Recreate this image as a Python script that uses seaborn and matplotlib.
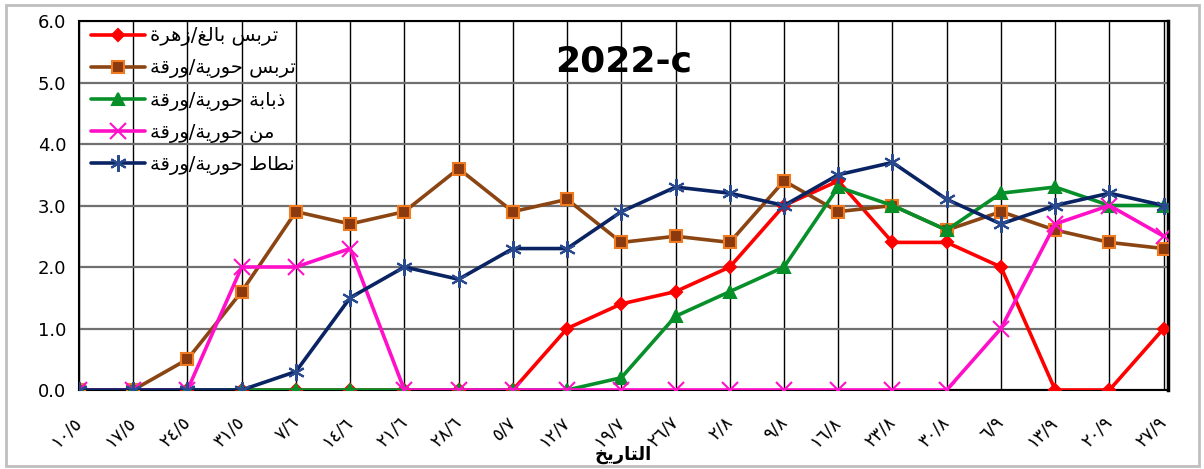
import pandas as pd
import matplotlib
matplotlib.use("Agg")
import matplotlib.pyplot as plt
import seaborn as sns
from matplotlib.patches import Rectangle

# Data
dates = ['١٠/٥', '١٧/٥', '٢٤/٥', '٣١/٥', '٧/٦', '١٤/٦', '٢١/٦', '٢٨/٦', '٥/٧', '١٢/٧', '١٩/٧',
         '٢٦/٧', '٢/٨', '٩/٨', '١٦/٨', '٢٣/٨', '٣٠/٨', '٦/٩', '١٣/٩', '٢٠/٩', '٢٧/٩']
thrips_adult = [0, 0, 0, 0, 0, 0, 0, 0, 0, 1.0, 1.4, 1.6, 2.0, 3.0, 3.4, 2.4, 2.4, 2.0, 0, 0, 1.0]
thrips_nymph = [0, 0, 0.5, 1.6, 2.9, 2.7, 2.9, 3.6, 2.9, 3.1, 2.4, 2.5, 2.4, 3.4, 2.9, 3.0, 2.6, 2.9, 2.6, 2.4, 2.3]
whitefly_nymph = [0, 0, 0, 0, 0, 0, 0, 0, 0, 0, 0.2, 1.2, 1.6, 2.0, 3.3, 3.0, 2.6, 3.2, 3.3, 3.0, 3.0]
aphid_nymph = [0, 0, 0, 2.0, 2.0, 2.3, 0, 0, 0, 0, 0, 0, 0, 0, 0, 0, 0, 1.0, 2.7, 3.0, 2.5]
hopper_nymph = [0, 0, 0, 0, 0.3, 1.5, 2.0, 1.8, 2.3, 2.3, 2.9, 3.3, 3.2, 3.0, 3.5, 3.7, 3.1, 2.7, 3.0, 3.2, 3.0]

labels = ['تربس بالغ/زهرة', 'تربس حورية/ورقة', 'ذبابة حورية/ورقة', 'من حورية/ورقة', 'نطاط حورية/ورقة']
series = [thrips_adult, thrips_nymph, whitefly_nymph, aphid_nymph, hopper_nymph]
title = '2022-c'
xlabel = 'التاريخ'

# matplotlib has no Arabic shaping: map letters to presentation forms, then reverse
FORMS = {'ا': (0xFE8D, 2), 'ب': (0xFE8F, 4), 'ة': (0xFE93, 2), 'ت': (0xFE95, 4), 'ح': (0xFEA1, 4),
         'خ': (0xFEA5, 4), 'ذ': (0xFEAB, 2), 'ر': (0xFEAD, 2), 'ز': (0xFEAF, 2), 'س': (0xFEB1, 4),
         'ط': (0xFEC1, 4), 'غ': (0xFECD, 4), 'ق': (0xFED5, 4), 'ل': (0xFEDD, 4), 'م': (0xFEE1, 4),
         'ن': (0xFEE5, 4), 'ه': (0xFEE9, 4), 'و': (0xFEED, 2), 'ي': (0xFEF1, 4)}


def ar(text):
    out = []
    for i, c in enumerate(text):
        if c not in FORMS:
            out.append(c)
            continue
        base, n = FORMS[c]
        prev = text[i - 1] if i > 0 else None
        nxt = text[i + 1] if i + 1 < len(text) else None
        jp = prev in FORMS and FORMS[prev][1] == 4
        jn = n == 4 and nxt in FORMS
        idx = 3 if (jp and jn) else 1 if jp else 2 if jn else 0
        out.append(chr(base + idx))
    return ''.join(reversed(out))


sns.set_style("white")
plt.rcParams['font.family'] = ['DejaVu Sans']
plt.rcParams['text.color'] = 'black'
plt.rcParams['axes.labelcolor'] = 'black'
plt.rcParams['xtick.labelcolor'] = 'black'
plt.rcParams['ytick.labelcolor'] = 'black'

colors = ['#FF0000', '#8B4513', '#07902A', '#FF10C8', '#0A2463']
markers = ['D', 's', '^', 'x', (6, 2, 0)]
msizes = [6, 9, 9, 11, 12]
mfc = ['#FF0000', '#8B3A0F', '#07902A', '#FF10C8', '#0A2463']
mec = ['#FF0000', '#F07A20', '#07902A', '#FF10C8', '#2A4A90']

df = pd.DataFrame({'x': range(len(dates))})
for lab, vals in zip(labels, series):
    df[lab] = vals

fig = plt.figure(figsize=(12.04, 4.69), dpi=100)
ax = fig.add_axes([79 / 1204, 1 - 390 / 469, (1168 - 79) / 1204, (390 - 21) / 469])

for i, lab in enumerate(labels):
    sns.lineplot(data=df, x='x', y=lab, ax=ax, color=colors[i], marker=markers[i],
                 markersize=msizes[i], markerfacecolor=mfc[i], markeredgecolor=mec[i],
                 markeredgewidth=1.5, linewidth=2.6, label=ar(lab), zorder=3 + i)

ax.set_xlim(0, len(dates) - 1 + 0.08)
ax.set_ylim(0, 6)
ax.set_yticks([0, 1, 2, 3, 4, 5, 6])
ax.set_yticklabels([f'{v:.1f}' for v in range(7)], fontsize=13)
ax.set_xticks(range(len(dates)))
ax.set_xticklabels(dates, rotation=45, ha='right', va='center', rotation_mode='anchor', fontsize=13)
ax.tick_params(axis='both', length=5, color='#A0A0A0', direction='out', pad=4)
ax.tick_params(axis='x', pad=16)

ax.grid(axis='x', color='black', linewidth=1.0)
ax.grid(axis='y', color='#707070', linewidth=1.6)
for s in ax.spines.values():
    s.set_color('black')
    s.set_linewidth(1.5)
ax.spines['right'].set_linewidth(2.5)

ax.set_xlabel(ar(xlabel), fontsize=13, fontweight='bold', va='center')
ax.xaxis.set_label_coords(0.5, -(455 - 390) / 369)
ax.set_ylabel('')
ax.text(0.5, 0.89, title, transform=ax.transAxes, ha='center', va='center',
        fontsize=26, fontweight='bold', color='black')

leg = ax.legend(loc='upper left', bbox_to_anchor=(0.0, 1.017), frameon=False, fontsize=14,
                handlelength=2.8, handletextpad=0.25, labelspacing=0.62, borderaxespad=0.2)

fig.add_artist(Rectangle((6 / 1204, 3 / 469), 1193 / 1204, 461 / 469, transform=fig.transFigure,
                         fill=False, edgecolor='#BFBFBF', linewidth=2))

plt.savefig('out.png', dpi=100)
